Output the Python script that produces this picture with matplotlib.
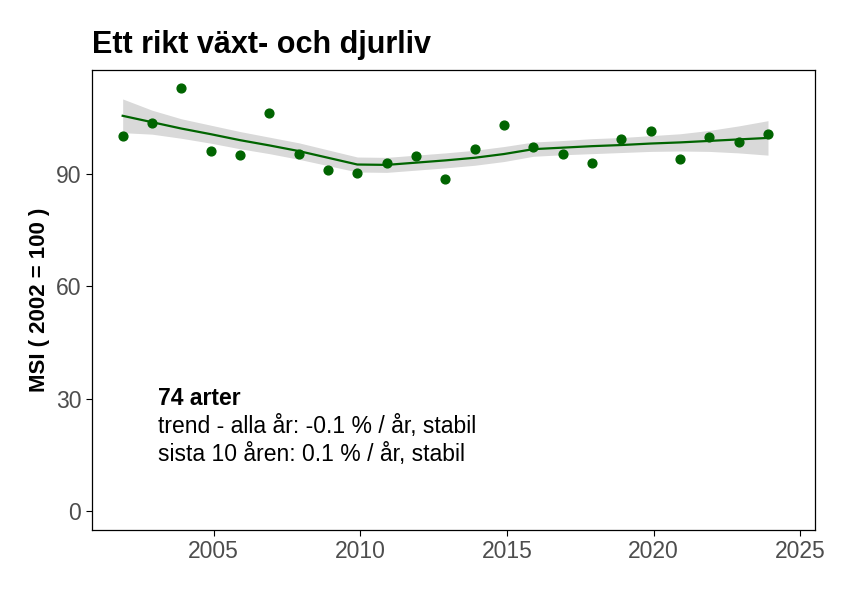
import matplotlib
matplotlib.use("Agg")
from matplotlib import pyplot as plt
import numpy as np

plt.rcParams["font.family"] = "Liberation Sans"

years = np.arange(2002, 2025)
msi = [100.1, 103.6, 112.9, 96.1, 95.1, 106.3, 95.3, 91.1, 90.3, 92.9, 94.8, 88.7,
       96.7, 103.1, 97.2, 95.3, 92.9, 99.3, 101.5, 94.0, 99.9, 98.5, 100.7]
smooth = [105.5, 103.8, 102.1, 100.6, 99.0, 97.6, 96.1, 94.3, 92.5, 92.4, 93.0, 93.6,
          94.3, 95.3, 96.6, 97.0, 97.4, 97.7, 98.1, 98.4, 98.8, 99.2, 99.6]
se = [4.5, 3.2, 2.6, 2.4, 2.3, 2.2, 2.2, 2.1, 2.0, 2.0, 2.0, 2.0,
      2.0, 2.0, 1.9, 1.9, 2.0, 2.0, 2.1, 2.3, 2.8, 3.6, 4.6]

title = "Ett rikt växt- och djurliv"
ylabel = "MSI ( 2002 = 100 )"
notes = ["trend - alla år: -0.1 % / år, stabil", "sista 10 åren: 0.1 % / år, stabil"]

fig = plt.figure(figsize=(8.48, 5.94), dpi=100)
ax = fig.add_axes([0.108, 0.108, 0.853, 0.774])
lo = np.array(smooth) - np.array(se)
hi = np.array(smooth) + np.array(se)
ax.fill_between(years - 0.1, lo, hi, color="#d9d9d9", lw=0)
ax.plot(years - 0.1, smooth, color="#006400", lw=1.6)
ax.scatter(years - 0.1, msi, color="#006400", s=40, zorder=3)
ax.set_xlim(2000.84, 2025.5)
ax.set_ylim(-5, 117.7)
ax.set_yticks([0, 30, 60, 90])
ax.set_xticks([2005, 2010, 2015, 2020, 2025])
ax.tick_params(labelsize=16.5, colors="black", labelcolor="#4d4d4d", length=4)
for s in ax.spines.values():
    s.set_linewidth(0.9)
ax.set_ylabel(ylabel, fontsize=16, fontweight="bold")
fig.text(0.108, 0.91, title, fontsize=22, fontweight="bold")
ax.text(2003.1, 30, "74 arter", fontsize=16.5, fontweight="bold", va="center")
ax.text(2003.1, 22.5, notes[0], fontsize=16.5, va="center")
ax.text(2003.1, 15, notes[1], fontsize=16.5, va="center")
fig.savefig("out.png")
